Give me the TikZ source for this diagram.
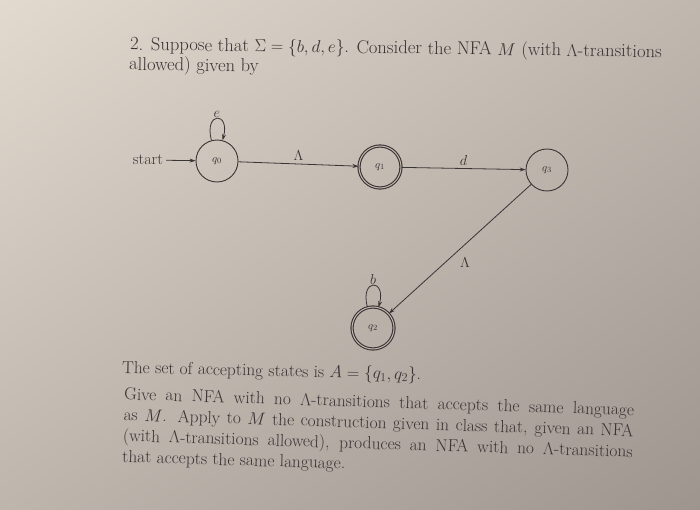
\documentclass[tikz,border=0pt]{standalone}
\usetikzlibrary{arrows.meta,shadings}
\definecolor{paperTL}{RGB}{226,217,207}
\definecolor{paperTR}{RGB}{192,183,175}
\definecolor{paperBL}{RGB}{190,181,173}
\definecolor{paperBR}{RGB}{158,149,143}
\definecolor{ink}{RGB}{58,52,52}
\begin{document}
\begin{tikzpicture}[x=1pt,y=1pt]
  \tikzset{st/.style={draw=ink,circle,minimum size=42pt,inner sep=0pt,line width=0.9pt,font=\fontsize{11}{12}\selectfont},
    acc/.style={st,double=paperTR,double distance=1pt,line width=1.1pt},
    lbl/.style={font=\fontsize{14}{16}\selectfont,text=ink,inner sep=1pt},
    tr/.style={draw=ink,line width=0.8pt,-{Stealth[length=6pt,width=4pt]}},
    txt/.style={font=\fontsize{17.4}{20.8}\selectfont,text=ink,inner sep=0pt,anchor=base west}}
  \shade[upper left=paperTL,upper right=paperTR,lower left=paperBL,lower right=paperBR] (0,0) rectangle (700,509);
  \useasboundingbox (0,0) rectangle (700,509);
  % the question
  \node[txt,font=\fontsize{18.6}{20}\selectfont,rotate=-0.8] (t1) at (130,459) {2. Suppose that $\Sigma=\{b,d,e\}$. Consider the NFA $M$ (with $\Lambda$-transitions};
  \node[txt,font=\fontsize{18.6}{20}\selectfont,rotate=-0.8] (t2) at (129,439) {allowed) given by};
  % the automaton
  \node[st,text=ink] (q0) at (217,348) {$q_0$};
  \node[acc,text=ink] (q1) at (380,342) {$q_1$};
  \node[st,text=ink] (q3) at (547,339) {$q_3$};
  \node[acc,text=ink] (q2) at (373,181) {$q_2$};
  \node[font=\fontsize{16}{18}\selectfont,text=ink,inner sep=3pt] (start) at (148,349) {start};
  \draw[tr] (start) -- (q0);
  \draw[tr] (q0) to[loop above,min distance=30pt] node[lbl,above] {$e$} (q0);
  \draw[tr] (q0) -- node[lbl,above=2pt] {$\Lambda$} (q1);
  \draw[tr] (q1) -- node[lbl,above=2pt] {$d$} (q3);
  \draw[tr] (q3) -- node[lbl,below=7pt,xshift=5pt] {$\Lambda$} (q2);
  \draw[tr] (q2) to[loop above,min distance=30pt] node[lbl,above] {$b$} (q2);
  % accepting states and the task
  \node[txt,rotate=-1.3] (t3) at (122,136) {The set of accepting states is $A=\{q_1,q_2\}$.};
  \node[txt,rotate=-1.8,align=left] (t4) at (122,47) {\makebox[510pt][s]{Give an NFA with no $\Lambda$-transitions that accepts the same language}\\
    \makebox[510pt][s]{as $M$. Apply to $M$ the construction given in class that, given an NFA}\\
    \makebox[510pt][s]{(with $\Lambda$-transitions allowed), produces an NFA with no $\Lambda$-transitions}\\
    that accepts the same language.};
\end{tikzpicture}
\end{document}
